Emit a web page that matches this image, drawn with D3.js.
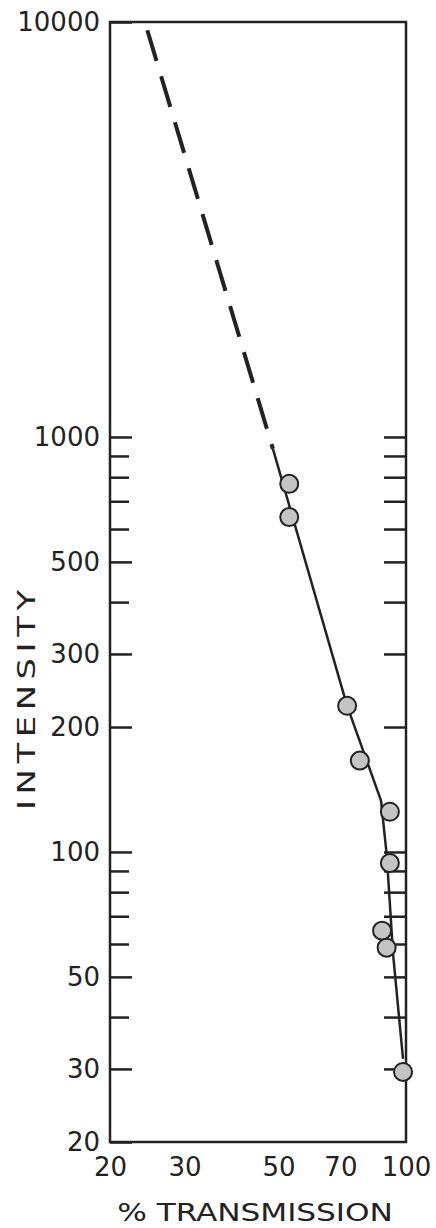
<!DOCTYPE html>
<html>
<head>
<meta charset="utf-8">
<script src="https://cdn.jsdelivr.net/npm/d3@7"></script>
<style>
  body { margin: 0; background: #fff; }
  svg text { font-family: "DejaVu Sans", sans-serif; fill: #222; }
</style>
</head>
<body>
<svg id="chart" width="436" height="1228"></svg>
<script>
// tick values
var xTicks = [20, 30, 50, 70, 100];
var yLabels = [20, 30, 50, 100, 200, 300, 500, 1000, 10000];
var yMajor = [30, 50, 100, 200, 300, 500, 1000];
var yMinor = [40, 60, 70, 80, 90, 400, 600, 700, 800, 900];

// measured points (% transmission, intensity)
var pointX = [53, 53, 72.6, 77.8, 91.6, 91.6, 87.8, 90, 98.4];
var pointY = [771, 641, 225, 166, 125, 94, 64.6, 58.8, 29.5];

// fitted curve, solid part
var solidX = [48.5, 72.6, 87.3, 90, 91.2, 93.2, 98.4];
var solidY = [936, 225, 133, 99, 80.5, 56.8, 31.7];
// extrapolation, dashed
var dashX = [24.5, 48.5];
var dashY = [9550, 936];

var svg = d3.select("#chart");
// note: "top" is reserved on window, so use plotTop etc.
var plotLeft = 110, plotRight = 406, plotTop = 22, plotBottom = 1142;

var x = d3.scaleLog().domain([20, 100]).range([plotLeft, plotRight]);
var y = d3.scaleLog().domain([20, 10000]).range([plotBottom, plotTop]);

// left axis with labels, ticks point inward
var yAxis = svg.append("g")
  .attr("transform", "translate(" + plotLeft + ",0)")
  .call(d3.axisLeft(y).tickValues(yLabels).tickSizeInner(-22).tickSizeOuter(0)
    .tickPadding(10).tickFormat(d3.format("d")));
yAxis.select(".domain").remove();
yAxis.selectAll("text").attr("font-size", 26);
yAxis.selectAll("line").attr("stroke", "#222").attr("stroke-width", 2.5);

// left minor ticks
var yMin = svg.append("g")
  .attr("transform", "translate(" + plotLeft + ",0)")
  .call(d3.axisLeft(y).tickValues(yMinor).tickSizeInner(-19).tickSizeOuter(0).tickFormat(""));
yMin.select(".domain").remove();
yMin.selectAll("line").attr("stroke", "#222").attr("stroke-width", 2.5);

// right side ticks
var yRight = svg.append("g")
  .attr("transform", "translate(" + plotRight + ",0)")
  .call(d3.axisRight(y).tickValues(yMajor.concat(yMinor)).tickSizeInner(-22).tickSizeOuter(0).tickFormat(""));
yRight.select(".domain").remove();
yRight.selectAll("line").attr("stroke", "#222").attr("stroke-width", 2.5);

// bottom labels, no tick marks
var xAxis = svg.append("g")
  .attr("transform", "translate(0," + plotBottom + ")")
  .call(d3.axisBottom(x).tickValues(xTicks).tickSize(0).tickPadding(16).tickFormat(d3.format("d")));
xAxis.select(".domain").remove();
xAxis.selectAll("text").attr("font-size", 26);

// frame
svg.append("rect")
  .attr("x", plotLeft).attr("y", plotTop)
  .attr("width", plotRight - plotLeft).attr("height", plotBottom - plotTop)
  .attr("fill", "none").attr("stroke", "#222").attr("stroke-width", 2.5);

var line = d3.line()
  .x(function(d) { return x(d[0]); })
  .y(function(d) { return y(d[1]); });

svg.append("path")
  .datum(d3.zip(dashX, dashY))
  .attr("d", line)
  .attr("fill", "none").attr("stroke", "#222")
  .attr("stroke-width", 4).attr("stroke-dasharray", "32,16");

svg.append("path")
  .datum(d3.zip(solidX, solidY))
  .attr("d", line)
  .attr("fill", "none").attr("stroke", "#222")
  .attr("stroke-width", 2.5).attr("stroke-linejoin", "round");

svg.append("g").selectAll("circle")
  .data(d3.zip(pointX, pointY))
  .join("circle")
  .attr("cx", function(d) { return x(d[0]); })
  .attr("cy", function(d) { return y(d[1]); })
  .attr("r", 9)
  .attr("fill", "#c4c4c4")
  .attr("stroke", "#222")
  .attr("stroke-width", 2);

// axis titles - the original lettering is wide, so stretch it a bit
svg.append("text")
  .attr("transform", "translate(35,700) rotate(-90) scale(1.35,1)")
  .attr("text-anchor", "middle")
  .attr("font-size", 25)
  .attr("textLength", 163).attr("lengthAdjust", "spacing")
  .text("INTENSITY");

svg.append("text")
  .attr("transform", "translate(255,1221) scale(1.3,1)")
  .attr("text-anchor", "middle")
  .attr("font-size", 24)
  .attr("textLength", 212).attr("lengthAdjust", "spacing")
  .text("% TRANSMISSION");
</script>
</body>
</html>
